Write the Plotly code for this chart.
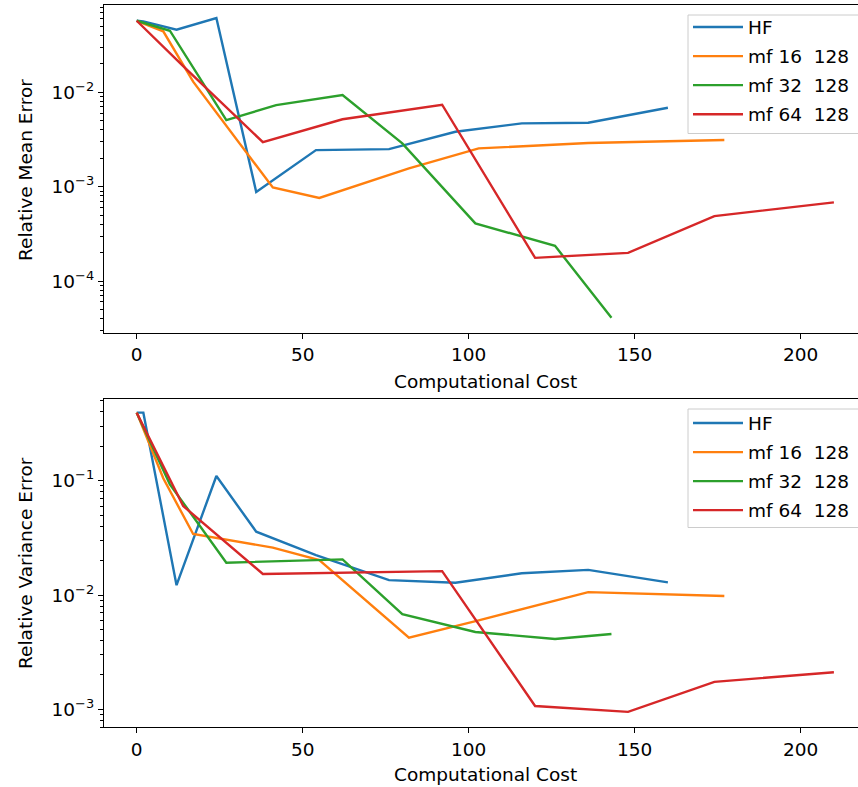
import plotly.graph_objects as go

# ---------------- data ----------------
names = ["HF", "mf 16  128", "mf 32  128", "mf 64  128"]
colors = ["#1f77b4", "#ff7f0e", "#2ca02c", "#d62728"]

hf_x = [0, 2, 12, 24, 36, 54, 76, 96, 116, 136, 160]
mf16_x = [0, 8, 17, 41, 55, 82, 103, 136, 177]
mf32_x = [0, 10, 27, 42, 62, 80, 102, 126, 143]
mf64_x = [0, 14, 38, 62, 92, 120, 148, 174, 210]

hf_mean = [0.0574, 0.0565, 0.0461, 0.0614, 0.00088, 0.00244, 0.0025, 0.00382, 0.00469, 0.00477, 0.00687]
mf16_mean = [0.0574, 0.0444, 0.013, 0.00098, 0.00076, 0.00156, 0.00255, 0.0029, 0.00312]
mf32_mean = [0.0574, 0.045, 0.00508, 0.00733, 0.00936, 0.00288, 0.000408, 0.000236, 0.0000407]
mf64_mean = [0.0574, 0.019, 0.00296, 0.00518, 0.0074, 0.000176, 0.000199, 0.000488, 0.000681]

hf_var = [0.394, 0.394, 0.0122, 0.11, 0.0358, 0.0224, 0.0135, 0.0128, 0.0155, 0.0166, 0.0129]
mf16_var = [0.394, 0.105, 0.0342, 0.026, 0.0202, 0.00423, 0.006, 0.0106, 0.0098]
mf32_var = [0.394, 0.093, 0.0192, 0.0197, 0.0205, 0.0068, 0.00475, 0.00412, 0.00456]
mf64_var = [0.394, 0.0601, 0.0153, 0.0157, 0.0162, 0.00107, 0.00095, 0.00174, 0.00211]

x_ticks = [0, 50, 100, 150, 200]
mean_ticks = [1e-4, 1e-3, 1e-2]
mean_tick_text = ["10<sup>−4</sup>", "10<sup>−3</sup>", "10<sup>−2</sup>"]
var_ticks = [1e-3, 1e-2, 1e-1]
var_tick_text = ["10<sup>−3</sup>", "10<sup>−2</sup>", "10<sup>−1</sup>"]

xs = [hf_x, mf16_x, mf32_x, mf64_x]
means = [hf_mean, mf16_mean, mf32_mean, mf64_mean]
vars_ = [hf_var, mf16_var, mf32_var, mf64_var]

# ---------------- figure ----------------
W, H = 858, 787
FONT = "DejaVu Sans"
FS = 18.5

fig = go.Figure()
for i in range(4):
    fig.add_trace(go.Scatter(x=xs[i], y=means[i], mode="lines", name=names[i],
                             line=dict(color=colors[i], width=2.4),
                             xaxis="x", yaxis="y", legend="legend",
                             legendgroup="a%d" % i))
for i in range(4):
    fig.add_trace(go.Scatter(x=xs[i], y=vars_[i], mode="lines", name=names[i],
                             line=dict(color=colors[i], width=2.4),
                             xaxis="x2", yaxis="y2", legend="legend2",
                             legendgroup="b%d" % i))

x0px, unit = 136.7, 3.32
xl = (104 - x0px) / unit
xr = (W - x0px) / unit

def minor_vals(lo, hi):
    out = []
    for e in range(lo, hi + 1):
        for m in range(2, 10):
            out.append(m * 10 ** e)
    return out

axis_common = dict(showline=True, linecolor="black", linewidth=1.3,
                   ticks="outside", ticklen=5, tickwidth=1.3, tickcolor="black",
                   showgrid=False, zeroline=False,
                   tickfont=dict(family=FONT, size=FS, color="black"))

ann_font = dict(family=FONT, size=FS, color="black")

def legend_box(top, bottom):
    return dict(type="rect", xref="paper", yref="paper",
                x0=688 / W, x1=1.02, y0=1 - bottom / H, y1=1 - top / H,
                line=dict(color="#cccccc", width=1),
                fillcolor="rgba(255,255,255,0.8)", layer="above")

leg_common = dict(xanchor="left", yanchor="top", borderwidth=0,
                  bgcolor="rgba(0,0,0,0)",
                  font=dict(family=FONT, size=FS, color="black"),
                  tracegroupgap=2, itemwidth=50)

fig.update_layout(
    width=W, height=H,
    margin=dict(l=0, r=0, t=0, b=0),
    paper_bgcolor="white", plot_bgcolor="white",
    font=dict(family=FONT, size=FS, color="black"),
    showlegend=True,
    xaxis=dict(domain=[104 / W, 1], range=[xl, xr], tickvals=x_ticks,
               anchor="y", mirror=True, **axis_common),
    yaxis=dict(domain=[1 - 333 / H, 1 - 5 / H], type="log", range=[-4.551, -1.074],
               tickvals=mean_ticks, ticktext=mean_tick_text, anchor="x",
               minor=dict(ticks="outside", ticklen=2.5, tickwidth=1, tickcolor="black",
                          tickvals=minor_vals(-5, -2)),
               **axis_common),
    xaxis2=dict(domain=[104 / W, 1], range=[xl, xr], tickvals=x_ticks,
                anchor="y2", mirror=True, **axis_common),
    yaxis2=dict(domain=[1 - 727.3 / H, 1 - 399 / H], type="log", range=[-3.157, -0.285],
                tickvals=var_ticks, ticktext=var_tick_text, anchor="x2",
                minor=dict(ticks="outside", ticklen=2.5, tickwidth=1, tickcolor="black",
                           tickvals=minor_vals(-4, -1)),
                **axis_common),
    legend=dict(x=688 / W, y=1 - 8.5 / H, **leg_common),
    legend2=dict(x=688 / W, y=1 - 404.5 / H, **leg_common),
    shapes=[legend_box(15, 133.5), legend_box(409, 527.5)],
    annotations=[
        dict(text="Relative Mean Error", x=25 / W, y=1 - 170 / H, xref="paper", yref="paper",
             xanchor="center", yanchor="middle",
             textangle=-90, showarrow=False, font=ann_font),
        dict(text="Computational Cost", x=485 / W, y=1 - 381 / H, xref="paper", yref="paper",
             xanchor="center", yanchor="middle",
             showarrow=False, font=ann_font),
        dict(text="Relative Variance Error", x=25 / W, y=1 - 563 / H, xref="paper", yref="paper",
             xanchor="center", yanchor="middle",
             textangle=-90, showarrow=False, font=ann_font),
        dict(text="Computational Cost", x=485 / W, y=1 - 774 / H, xref="paper", yref="paper",
             xanchor="center", yanchor="middle",
             showarrow=False, font=ann_font),
    ],
)

fig.write_html("out.html")
